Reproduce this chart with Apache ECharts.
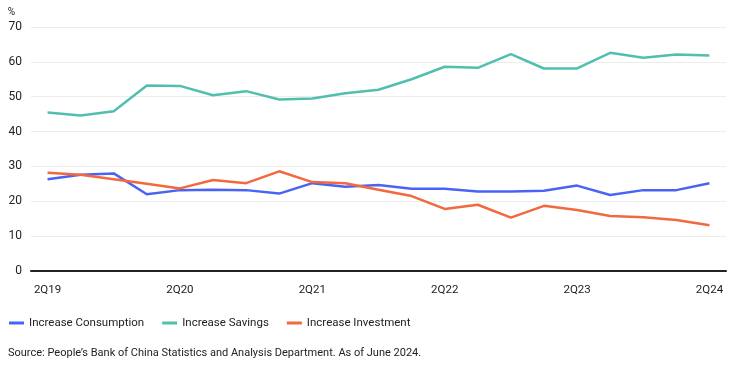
<!DOCTYPE html>
<html><head><meta charset="utf-8">
<script src="https://cdn.jsdelivr.net/npm/echarts@6/dist/echarts.min.js"></script>
<style>html,body{margin:0;padding:0;background:#fff}#c{width:731px;height:367px}</style>
</head><body><div id="c"></div>
<script>
const categories = ['2Q19','3Q19','4Q19','1Q20','2Q20','3Q20','4Q20','1Q21','2Q21','3Q21','4Q21','1Q22','2Q22','3Q22','4Q22','1Q23','2Q23','3Q23','4Q23','1Q24','2Q24'];
const consumption = [26.3,27.6,28.0,22.0,23.2,23.3,23.2,22.2,25.2,24.2,24.7,23.6,23.6,22.8,22.8,23.0,24.5,21.8,23.2,23.2,25.2];
const savings = [45.5,44.6,45.8,53.2,53.1,50.4,51.6,49.2,49.5,51.0,52.0,55.0,58.6,58.3,62.2,58.1,58.1,62.6,61.2,62.1,61.8];
const investment = [28.2,27.6,26.3,25.0,23.7,26.1,25.2,28.6,25.5,25.2,23.3,21.5,17.8,19.0,15.3,18.7,17.5,15.8,15.4,14.6,13.1];
const yTicks = [0,10,20,30,40,50,60,70];
const seriesNames = ['Increase Consumption','Increase Savings','Increase Investment'];
const colors = ['#4a63f5','#52bfae','#f2693f'];
const sourceText = "Source: People\u2019s Bank of China Statistics and Analysis Department. As of June 2024.";

const font = "Roboto, sans-serif";
const chart = echarts.init(document.getElementById('c'), null, {renderer:'canvas'});
const mk = (name, data, color) => ({
  name, type:'line', data, symbol:'none', smooth:false,
  lineStyle:{width:2.5, color}, itemStyle:{color}
});
chart.setOption({
  animation:false,
  textStyle:{fontFamily:font},
  grid:{left:31,right:5,top:27,bottom:96,containLabel:false},
  title:{text:sourceText,left:3,top:343,textStyle:{fontSize:11,fontWeight:'normal',color:'#222',fontFamily:font}},
  legend:{left:4,top:312,icon:'rect',itemWidth:15,itemHeight:3,itemGap:18,
    textStyle:{fontSize:11.5,color:'#222',fontFamily:font},
    data:seriesNames},
  xAxis:{type:'category',data:categories,boundaryGap:true,
    axisLine:{lineStyle:{color:'#222',width:2}},axisTick:{show:false},
    axisLabel:{interval:3,color:'#222',fontSize:11.5,margin:13,fontFamily:font}},
  yAxis:{type:'value',min:yTicks[0],max:yTicks[yTicks.length-1],interval:10,
    name:'%',nameLocation:'end',nameGap:10,nameTextStyle:{color:'#222',fontSize:10,align:'right',padding:[0,16,0,0],fontFamily:font},
    axisLine:{show:false},axisTick:{show:false},
    axisLabel:{color:'#222',fontSize:12,margin:9,fontFamily:font},
    splitLine:{lineStyle:{color:'#ececec',width:1}}},
  series:[mk(seriesNames[0],consumption,colors[0]),mk(seriesNames[1],savings,colors[1]),mk(seriesNames[2],investment,colors[2])]
});
</script></body></html>
